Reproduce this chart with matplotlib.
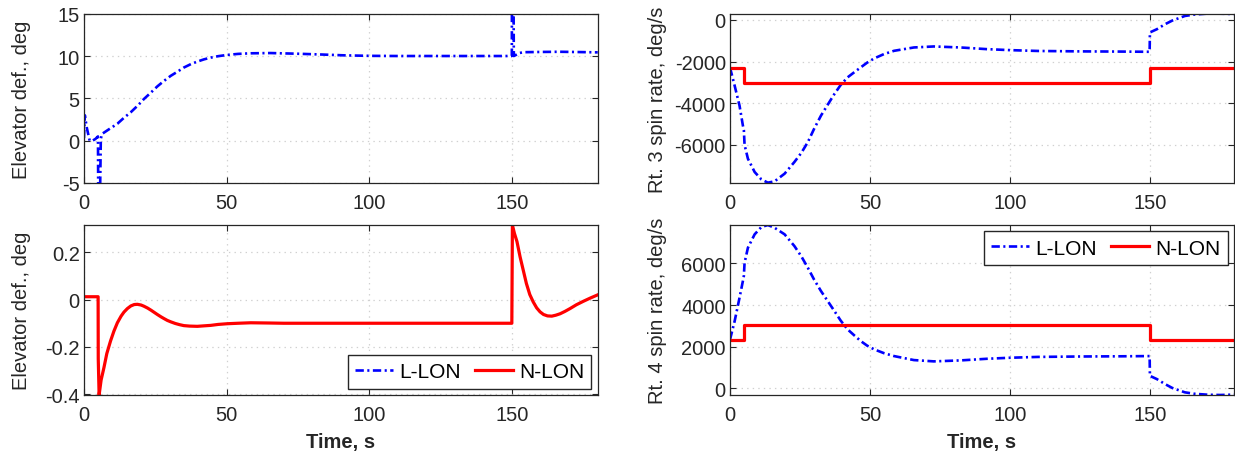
import matplotlib
matplotlib.use("Agg")
import matplotlib.pyplot as plt
from matplotlib import rcParams

rcParams['font.family'] = ['Liberation Sans', 'DejaVu Sans']
rcParams['axes.unicode_minus'] = False
rcParams['lines.scale_dashes'] = False

# ---- data ----
# elevator deflection, L-LON (deg)
t_elev_l = [0, 0.3, 1.0, 2.0, 3.0, 4.0, 4.6, 4.9, 5.0, 5.6, 5.9, 6.3, 7.0, 9.0, 11.7, 14.0,
            16.4, 19.0, 21.0, 23.5, 25.7, 28.0, 30.4, 33.0, 35.0, 37.5, 39.7, 42.0, 44.4, 47.0,
            50.0, 54.0, 58.4, 65.4, 74.8, 83.0, 91.0, 100.0, 110.0, 125.0, 140.0, 149.9,
            150.0, 150.3, 150.6, 151.2, 152.5, 154.0, 160.0, 166.8, 173.0, 180.0]
elev_l = [0.3, 3.0, 1.5, 0.0, 0.0, 0.2, 0.4, 0.5, -7.0, -7.0, 0.2, 0.8, 0.95, 1.4, 2.0, 2.7,
          3.36, 4.2, 4.92, 5.7, 6.41, 7.05, 7.66, 8.2, 8.64, 9.05, 9.34, 9.6, 9.81, 9.98,
          10.12, 10.25, 10.32, 10.35, 10.27, 10.18, 10.08, 10.02, 10.0, 10.0, 10.0, 10.0,
          30.0, 30.0, 10.0, 10.1, 10.35, 10.45, 10.48, 10.5, 10.47, 10.43]

# elevator deflection, N-LON (deg)
t_elev_n = [0, 4.95, 5.0, 5.3, 6.0, 7.0, 8.0, 9.3, 10.5, 11.7, 13.0, 14.0, 15.2, 16.4, 17.6,
            18.7, 20.0, 21.0, 22.3, 23.5, 24.6, 25.7, 27.0, 28.0, 29.2, 30.4, 32.0, 33.5, 35.0,
            37.0, 39.7, 42.0, 44.4, 47.0, 50.2, 54.0, 58.4, 65.0, 70.0, 91.0, 120.0, 149.9,
            150.1, 150.8, 151.7, 152.8, 154.0, 155.0, 156.2, 157.4, 158.6, 159.8, 161.0,
            162.4, 163.9, 165.3, 166.8, 168.5, 170.3, 172.5, 175.0, 177.5, 180.0]
elev_n = [0.012, 0.012, -0.25, -0.403, -0.34, -0.287, -0.228, -0.175, -0.133, -0.098, -0.070,
          -0.053, -0.038, -0.027, -0.021, -0.020, -0.023, -0.028, -0.036, -0.045, -0.054,
          -0.063, -0.073, -0.080, -0.088, -0.094, -0.101, -0.106, -0.110, -0.112, -0.113,
          -0.111, -0.109, -0.105, -0.102, -0.100, -0.098, -0.099, -0.100, -0.100, -0.100,
          -0.100, 0.315, 0.280, 0.245, 0.180, 0.119, 0.068, 0.021, -0.010, -0.035, -0.052,
          -0.063, -0.069, -0.070, -0.066, -0.060, -0.050, -0.038, -0.022, -0.007, 0.007, 0.020]

# rotor 3 spin rate (deg/s)
t_r3_l = [0, 1.66, 3.4, 4.6, 4.95, 5.2, 6.4, 8.8, 11.2, 13.5, 15.9, 19.5, 23.0, 25.5, 27.8,
          30.0, 32.5, 35.0, 37.3, 39.5, 42.0, 44.5, 46.7, 49.0, 51.5, 55.0, 58.6, 65.7, 72.8,
          82.3, 91.8, 100.0, 110.0, 125.0, 140.0, 149.9, 150.0, 152.5, 155.4, 158.0, 162.5,
          166.0, 170.8, 175.0, 180.0]
r3_l = [-2290, -3158, -4115, -5072, -5300, -6000, -6666, -7303, -7656, -7814, -7752, -7383,
        -6823, -6380, -5867, -5240, -4594, -4050, -3555, -3130, -2757, -2500, -2278, -2050,
        -1848, -1640, -1483, -1322, -1274, -1322, -1403, -1450, -1490, -1510, -1520, -1530,
        -600, -445, -206, -30, 191, 260, 306, 300, 285]
t_r3_n = [0, 5.0, 5.0, 150.0, 150.0, 180.0]
r3_n = [-2290, -2290, -3030, -3030, -2300, -2300]

# rotor 4 spin rate (deg/s)
t_r4_l = t_r3_l
r4_l = [2340, 3230, 4349, 5150, 5400, 6029, 6749, 7392, 7742, 7838, 7709, 7392, 6830, 6330,
        5789, 5230, 4670, 4170, 3710, 3260, 2832, 2530, 2270, 2050, 1872, 1690, 1550, 1358,
        1296, 1342, 1421, 1470, 1510, 1530, 1540, 1550, 600, 445, 206, 20, -190, -260, -305,
        -317, -300]
t_r4_n = t_r3_n
r4_n = [2330, 2330, 3030, 3030, 2330, 2330]

blue_kw = dict(color='#0000ff', lw=1.9, dashes=(6, 2.5, 1.5, 2.5))
red_kw = dict(color='#ff0000', lw=2.3)
dark = '#262626'
fs = 14.5


def style(ax, ylim, yticks, yticklabels, ylabel, label_x, xlabel=None):
    ax.set_xlim(0, 180)
    ax.set_xticks([0, 50, 100, 150])
    ax.set_ylim(*ylim)
    ax.set_yticks(yticks)
    ax.set_yticklabels(yticklabels)
    ax.tick_params(direction='in', top=True, right=True, length=4, labelsize=fs,
                   colors=dark, width=0.8)
    ax.tick_params(axis='x', pad=7)
    ax.tick_params(axis='y', pad=3)
    for s in ax.spines.values():
        s.set_color(dark)
        s.set_linewidth(0.9)
    ax.grid(True, color='#d0d0d0', linestyle=(0, (1, 3)), linewidth=0.9)
    ax.set_axisbelow(True)
    ax.set_ylabel(ylabel, fontsize=fs, color=dark)
    ax.yaxis.set_label_coords(label_x, 0.5)
    if xlabel:
        ax.set_xlabel(xlabel, fontsize=fs, fontweight='bold', color=dark)
        ax.xaxis.set_label_coords(0.5, -0.22)


def legend(ax, loc):
    ax.legend(loc=loc, ncol=2, fontsize=fs + 0.5, frameon=True, fancybox=False,
              edgecolor=dark, framealpha=1, borderpad=0.35, handlelength=1.8,
              columnspacing=0.7, handletextpad=0.3, borderaxespad=0.3)


fig = plt.figure(figsize=(12.35, 4.56), dpi=100)
ax1 = fig.add_axes([0.068, 0.5965, 0.416, 0.3713])
ax2 = fig.add_axes([0.5911, 0.5965, 0.408, 0.3713])
ax3 = fig.add_axes([0.068, 0.1316, 0.416, 0.3728])
ax4 = fig.add_axes([0.5911, 0.1316, 0.408, 0.3728])

ax1.plot(t_elev_l, elev_l, **blue_kw)
style(ax1, (-5, 15), [-5, 0, 5, 10, 15], ['-5', '0', '5', '10', '15'],
      'Elevator def., deg', -0.104)

ax2.plot(t_r3_l, r3_l, **blue_kw)
ax2.plot(t_r3_n, r3_n, **red_kw)
style(ax2, (-7830, 300), [-6000, -4000, -2000, 0], ['-6000', '-4000', '-2000', '0'],
      'Rt. 3 spin rate, deg/s', -0.125)

ax3.plot([], [], label='L-LON', **blue_kw)
ax3.plot(t_elev_n, elev_n, label='N-LON', **red_kw)
style(ax3, (-0.403, 0.315), [-0.4, -0.2, 0, 0.2], ['-0.4', '-0.2', '0', '0.2'],
      'Elevator def., deg', -0.104, 'Time, s')
legend(ax3, 'lower right')

ax4.plot(t_r4_l, r4_l, label='L-LON', **blue_kw)
ax4.plot(t_r4_n, r4_n, label='N-LON', **red_kw)
style(ax4, (-317, 7840), [0, 2000, 4000, 6000], ['0', '2000', '4000', '6000'],
      'Rt. 4 spin rate, deg/s', -0.125, 'Time, s')
legend(ax4, 'upper right')

fig.savefig('out.png', dpi=100)
